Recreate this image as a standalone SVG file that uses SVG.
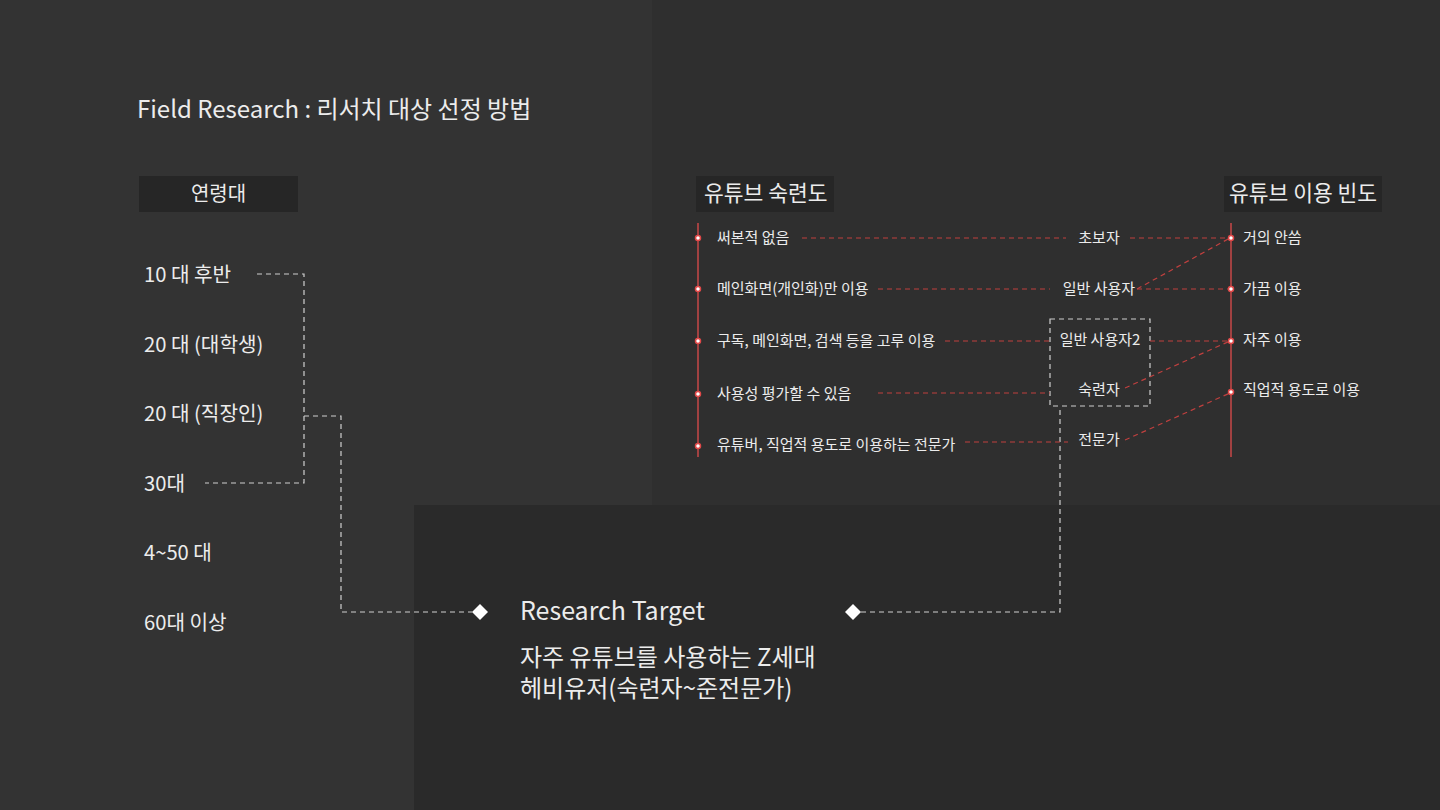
<svg xmlns="http://www.w3.org/2000/svg" width="1440" height="810" viewBox="0 0 1440 810">
<defs>
<style>
text{font-family:"Noto Sans CJK KR","Noto Sans",sans-serif;fill:#ececec}
.t{font-size:24px}
.h{font-size:20px}
.h2{font-size:21.5px}
.age{font-size:20.2px}
.s{font-size:15px}
.big{font-size:24px}
.gd{fill:none;stroke:#cfcfcf;stroke-width:1.2;stroke-dasharray:5 4}
.rd{fill:none;stroke:#c0403f;stroke-width:1.2;stroke-dasharray:5 4}
.rl{stroke:#c84848;stroke-width:1.5}
.dot{fill:#ffffff;stroke:#e04848;stroke-width:1.5}
.hbox{fill:#262626}
.dia{fill:#ffffff}
</style>
</defs>
<rect x="0" y="0" width="1440" height="810" fill="#333333"/>
<rect x="652" y="0" width="788" height="505" fill="#2f2f2f"/>
<rect x="414" y="505" width="1026" height="305" fill="#2a2a2a"/>

<g id="title"><text class="t" x="137" y="118">Field Research : 리서치 대상 선정 방법</text></g>

<g id="age-header"><rect class="hbox" x="139" y="176" width="159" height="36"/><text class="h" x="218.5" y="201" text-anchor="middle">연령대</text></g>
<g id="age-10"><text class="age" x="144" y="282">10 대 후반</text></g>
<g id="age-20a"><text class="age" x="144" y="352">20 대 (대학생)</text></g>
<g id="age-20b"><text class="age" x="144" y="421">20 대 (직장인)</text></g>
<g id="age-30"><text class="age" x="144" y="491">30대</text></g>
<g id="age-4050"><text class="age" x="144" y="560">4~50 대</text></g>
<g id="age-60"><text class="age" x="144" y="630">60대 이상</text></g>

<g id="skill-header"><rect class="hbox" x="696" y="176" width="138" height="36"/><text class="h2" x="704" y="201">유튜브 숙련도</text></g>
<g id="freq-header"><rect class="hbox" x="1224" y="176" width="158" height="36"/><text class="h2" x="1229" y="201">유튜브 이용 빈도</text></g>

<g id="skill-items">
<text class="s" x="717" y="243">써본적 없음</text>
<text class="s" x="717" y="294">메인화면(개인화)만 이용</text>
<text class="s" x="717" y="346">구독, 메인화면, 검색 등을 고루 이용</text>
<text class="s" x="717" y="399">사용성 평가할 수 있음</text>
<text class="s" x="717" y="450">유튜버, 직업적 용도로 이용하는 전문가</text>
</g>

<g id="user-types">
<text class="s" x="1099" y="243" text-anchor="middle">초보자</text>
<text class="s" x="1099" y="294" text-anchor="middle">일반 사용자</text>
<rect class="gd" x="1050" y="319" width="100" height="87"/>
<text class="s" x="1100" y="345" text-anchor="middle">일반 사용자2</text>
<text class="s" x="1099" y="395" text-anchor="middle">숙련자</text>
<text class="s" x="1099" y="445" text-anchor="middle">전문가</text>
</g>

<g id="freq-items">
<text class="s" x="1243" y="243">거의 안씀</text>
<text class="s" x="1243" y="294">가끔 이용</text>
<text class="s" x="1243" y="345">자주 이용</text>
<text class="s" x="1243" y="395">직업적 용도로 이용</text>
</g>

<g id="target">
<text x="520" y="620" style="font-size:25px">Research Target</text>
<text class="big" x="520" y="666">자주 유튜브를 사용하는 Z세대</text>
<text class="big" x="520" y="697">헤비유저(숙련자~준전문가)</text>
</g>

<g id="connectors">
<path class="gd" d="M257 274 H304 V483 H205"/>
<path class="gd" d="M304 416 H341 V612 H472"/>
<path class="gd" d="M861 612 H1060 V406"/>
<polygon class="dia" points="480,604 488,612 480,620 472,612"/>
<polygon class="dia" points="853,604 861,612 853,620 845,612"/>

<line class="rl" x1="698" y1="223" x2="698" y2="457"/>
<line class="rl" x1="1231" y1="223" x2="1231" y2="457"/>

<path class="rd" d="M802 238 H1066"/>
<path class="rd" d="M1130 238 H1230"/>
<path class="rd" d="M878 289 H1050"/>
<path class="rd" d="M1137 289 H1230"/>
<path class="rd" d="M1137 289 L1230 238"/>
<path class="rd" d="M945 341 H1050"/>
<path class="rd" d="M1150 341 H1230"/>
<path class="rd" d="M878 393 H1050"/>
<path class="rd" d="M1125 388 L1230 341"/>
<path class="rd" d="M965 442 H1068"/>
<path class="rd" d="M1125 440 L1230 393"/>

<circle class="dot" cx="698" cy="238" r="2.5"/>
<circle class="dot" cx="698" cy="289" r="2.5"/>
<circle class="dot" cx="698" cy="341" r="2.5"/>
<circle class="dot" cx="698" cy="394" r="2.5"/>
<circle class="dot" cx="698" cy="446" r="2.5"/>
<circle class="dot" cx="1231" cy="238" r="2.5"/>
<circle class="dot" cx="1231" cy="289" r="2.5"/>
<circle class="dot" cx="1231" cy="341" r="2.5"/>
<circle class="dot" cx="1231" cy="392" r="2.5"/>
</g>
</svg>
